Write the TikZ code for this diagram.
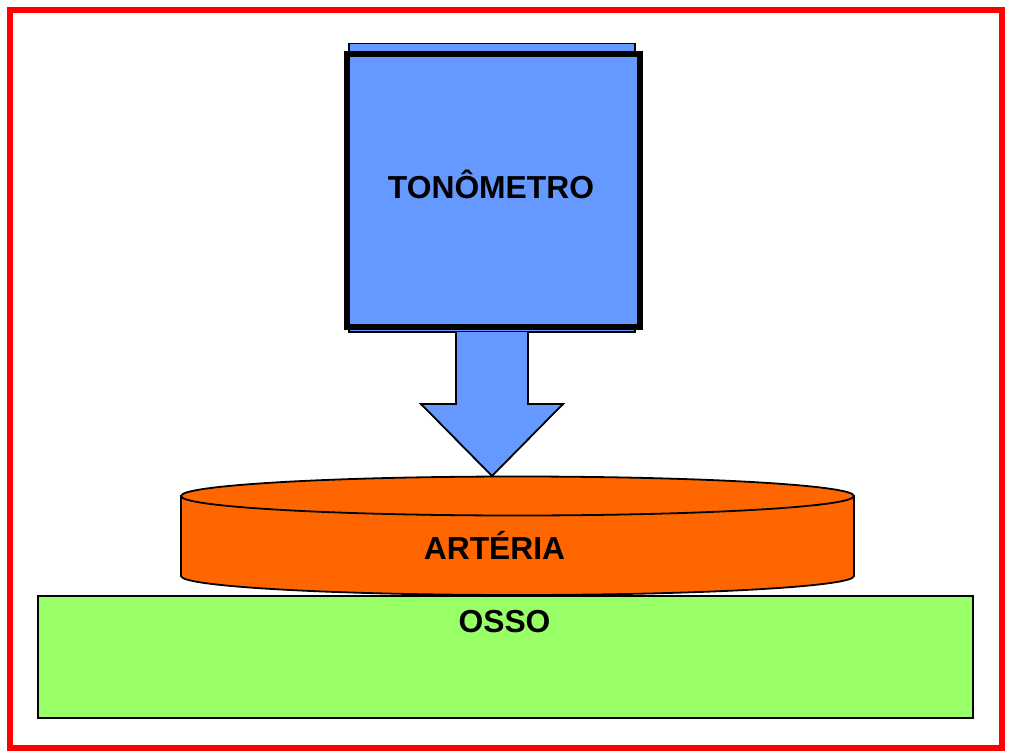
\documentclass[tikz,border=0pt]{standalone}
\usepackage{fontspec}
\setmainfont{Liberation Sans}
\usetikzlibrary{calc}
\definecolor{tonoblue}{HTML}{6699FF}
\definecolor{artorange}{HTML}{FF6600}
\definecolor{ossogreen}{HTML}{99FF66}

\begin{document}
\begin{tikzpicture}[x=1pt, y=-1pt, line join=miter,
  thin/.style={draw=black, line width=1.8pt},
  box/.style={thin, inner sep=0pt, outer sep=0pt},
  lbl/.style={font=\fontsize{31.8}{38}\selectfont\bfseries, anchor=base, inner sep=0pt}]
\useasboundingbox (0,0) rectangle (1009,754);
\draw[red, line width=6pt] (10,10) rectangle (1002,748);
% osso
\node[box, fill=ossogreen, minimum width=935pt, minimum height=122pt] (osso) at (505.5,657) {};
\node[lbl] (ossolbl) at (504.5,632) {OSSO};
% arteria
\coordinate (art) at (517.5,496);
\filldraw[thin, fill=artorange] ($(art)+(-336.5,0)$) -- ($(art)+(-336.5,80)$) arc[start angle=180, end angle=0, x radius=336.5, y radius=19] -- ($(art)+(336.5,0)$) -- cycle;
\filldraw[thin, fill=artorange] (art) ellipse[x radius=336.5, y radius=19.5];
\node[lbl] (artlbl) at (494.5,559) {ARTÉRIA};
% tonometro
\node[box, fill=tonoblue, minimum width=286pt, minimum height=288.5pt] (tonoback) at (492,187.75) {};
\node[box, fill=tonoblue, line width=6pt, minimum width=293pt, minimum height=273pt] (tono) at (493,190.5) {};
\node[lbl] (tonolbl) at (491,199) {TONÔMETRO};
% seta
\coordinate (tip) at (492,476);
\filldraw[thin, fill=tonoblue] ($(tonoback.south)+(-36,0)$) -- ($(tip)+(-36,-72)$) -- ($(tip)+(-71,-72)$) -- (tip)
  -- ($(tip)+(71,-72)$) -- ($(tip)+(36,-72)$) -- ($(tonoback.south)+(36,0)$);
\end{tikzpicture}
\end{document}
